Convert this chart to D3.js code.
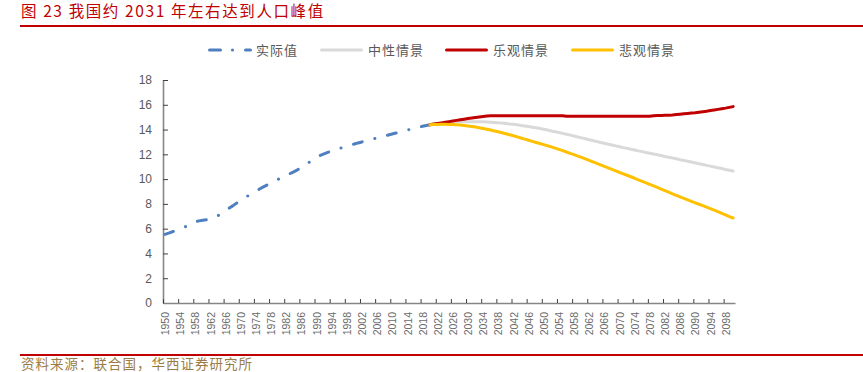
<!DOCTYPE html>
<html>
<head>
<meta charset="utf-8">
<script src="https://cdn.jsdelivr.net/npm/d3@7"></script>
<style>
  body { margin: 0; background: #fff; }
  svg { display: block; font-family: "Liberation Sans", Arial, sans-serif; }
</style>
</head>
<body>
<div id="chart-container"></div>
<script>
// 中国人口：实际值 1950-2020，三种情景 2020-2100（亿人）

const actualStart = 1950;
const actualValues = [
  5.54, 5.64, 5.75, 5.86, 5.98, 6.11, 6.24, 6.37, 6.55, 6.63,
  6.68, 6.72, 6.80, 6.93, 7.05, 7.24, 7.45, 7.66, 7.86, 8.07,
  8.27, 8.48, 8.66, 8.85, 9.03, 9.20, 9.37, 9.53, 9.68, 9.84,
  10.00, 10.14, 10.29, 10.44, 10.59, 10.75, 10.93, 11.13, 11.34, 11.55,
  11.76, 11.91, 12.04, 12.16, 12.27, 12.37, 12.47, 12.56, 12.65, 12.74,
  12.83, 12.92, 13.00, 13.08, 13.16, 13.24, 13.32, 13.40, 13.48, 13.56,
  13.64, 13.72, 13.80, 13.88, 13.96, 14.04, 14.12, 14.19, 14.26, 14.33,
  14.39
];

const scenarioStart = 2020;
const mediumValues = [
  14.39, 14.44, 14.48, 14.52, 14.55, 14.58, 14.60, 14.62, 14.63, 14.64,
  14.64, 14.64, 14.64, 14.63, 14.62, 14.61, 14.59, 14.57, 14.54, 14.52,
  14.49, 14.45, 14.42, 14.38, 14.33, 14.29, 14.24, 14.19, 14.14, 14.08,
  14.02, 13.96, 13.89, 13.83, 13.76, 13.69, 13.62, 13.55, 13.48, 13.40,
  13.33, 13.26, 13.18, 13.11, 13.03, 12.96, 12.89, 12.82, 12.75, 12.68,
  12.61, 12.54, 12.48, 12.41, 12.35, 12.28, 12.22, 12.15, 12.09, 12.02,
  11.96, 11.90, 11.83, 11.77, 11.70, 11.64, 11.57, 11.51, 11.44, 11.38,
  11.31, 11.24, 11.18, 11.11, 11.05, 10.98, 10.91, 10.85, 10.78, 10.72,
  10.65
];
const highValues = [
  14.39, 14.44, 14.49, 14.54, 14.59, 14.64, 14.69, 14.74, 14.79, 14.84,
  14.89, 14.94, 14.98, 15.02, 15.06, 15.09, 15.11, 15.12, 15.12, 15.12,
  15.12, 15.12, 15.12, 15.12, 15.12, 15.12, 15.12, 15.12, 15.12, 15.12,
  15.12, 15.12, 15.12, 15.12, 15.12, 15.12, 15.07, 15.07, 15.07, 15.07,
  15.07, 15.07, 15.07, 15.07, 15.07, 15.07, 15.07, 15.07, 15.07, 15.07,
  15.07, 15.07, 15.07, 15.07, 15.07, 15.07, 15.07, 15.07, 15.07, 15.12,
  15.13, 15.14, 15.15, 15.16, 15.18, 15.21, 15.24, 15.27, 15.30, 15.33,
  15.36, 15.40, 15.44, 15.48, 15.53, 15.58, 15.63, 15.68, 15.73, 15.79,
  15.85
];
const lowValues = [
  14.38, 14.40, 14.41, 14.42, 14.42, 14.41, 14.40, 14.38, 14.36, 14.33,
  14.29, 14.25, 14.20, 14.15, 14.09, 14.03, 13.96, 13.89, 13.82, 13.74,
  13.66, 13.58, 13.50, 13.41, 13.32, 13.23, 13.14, 13.05, 12.96, 12.87,
  12.78, 12.69, 12.60, 12.50, 12.40, 12.30, 12.19, 12.08, 11.97, 11.86,
  11.75, 11.63, 11.51, 11.39, 11.27, 11.15, 11.03, 10.91, 10.79, 10.67,
  10.55, 10.43, 10.31, 10.19, 10.07, 9.93, 9.81, 9.69, 9.57, 9.45,
  9.33, 9.20, 9.07, 8.94, 8.81, 8.69, 8.57, 8.45, 8.33, 8.21,
  8.09, 7.97, 7.86, 7.74, 7.62, 7.49, 7.37, 7.24, 7.11, 6.98,
  6.86
];

const yTicks = [0, 2, 4, 6, 8, 10, 12, 14, 16, 18];
const firstYear = 1950;
const lastYear = 2100;
const labelStep = 4;

const seriesNames = ["实际值", "中性情景", "乐观情景", "悲观情景"];
const seriesColors = ["#4F7FBF", "#D9D9D9", "#C00000", "#FFC000"];

const titleText = "图 23 我国约 2031 年左右达到人口峰值";
const sourceText = "资料来源：联合国，华西证券研究所";

const svgWidth = 863;
const svgHeight = 372;
const cjk = '"Noto Sans CJK SC", "Noto Sans", sans-serif';

const svg = d3.select("#chart-container")
    .append("svg")
    .attr("width", svgWidth)
    .attr("height", svgHeight);

// title + rules
svg.append("text")
    .attr("x", 21)
    .attr("y", 17)
    .attr("font-family", cjk)
    .attr("font-size", "15.5px")
    .attr("letter-spacing", "1.6px")
    .attr("fill", "#C00000")
    .text(titleText);

svg.append("rect").attr("x", 20).attr("y", 25).attr("width", svgWidth - 20).attr("height", 2).attr("fill", "#C00000");
svg.append("rect").attr("x", 20).attr("y", 354).attr("width", svgWidth - 20).attr("height", 2).attr("fill", "#C00000");

svg.append("text")
    .attr("x", 21)
    .attr("y", 369)
    .attr("font-family", cjk)
    .attr("font-size", "13.5px")
    .attr("letter-spacing", "1px")
    .attr("fill", "#9C7C45")
    .text(sourceText);

// scales
const scaleX = d3.scaleLinear()
    .domain([firstYear - 0.5, lastYear + 0.5])
    .range([163, 735]);

const scaleY = d3.scaleLinear()
    .domain([0, 18])
    .range([303, 80]);

// y axis
const yAxis = svg.append("g")
    .attr("transform", `translate(${scaleX.range()[0]},0)`)
    .call(d3.axisLeft(scaleY).tickValues(yTicks).tickSize(-5).tickSizeOuter(0).tickPadding(11));
yAxis.select(".domain").attr("stroke", "#868686").attr("stroke-width", 1.6);
yAxis.selectAll(".tick line").attr("stroke", "#404040");
yAxis.selectAll("text").attr("font-size", "12px").attr("fill", "#595959")
    .attr("font-family", '"Liberation Sans", Arial, sans-serif');

// x axis: tick marks at category boundaries, labels at category centres
const boundaryTicks = d3.range(firstYear - 0.5, lastYear, labelStep);
const labelYears = d3.range(firstYear, lastYear, labelStep);

const xAxis = svg.append("g")
    .attr("transform", `translate(0,${scaleY(0)})`)
    .call(d3.axisBottom(scaleX).tickValues(boundaryTicks).tickSize(-4).tickSizeOuter(0).tickFormat(""));
xAxis.select(".domain").attr("stroke", "#868686").attr("stroke-width", 1.6);
xAxis.selectAll(".tick line").attr("stroke", "#404040");

const xLabels = svg.append("g")
    .attr("transform", `translate(0,${scaleY(0)})`)
    .call(d3.axisBottom(scaleX).tickValues(labelYears).tickSize(0).tickFormat(d3.format("d")));
xLabels.select(".domain").remove();
xLabels.selectAll("text")
    .attr("transform", "rotate(-90)")
    .attr("x", -9)
    .attr("y", 0)
    .attr("dy", "0.35em")
    .attr("text-anchor", "end")
    .attr("font-size", "10.5px")
    .attr("fill", "#6a6a6a")
    .attr("font-family", '"Liberation Sans", Arial, sans-serif');

// lines
const toPoints = (start, values) => values.map((v, i) => ({ year: start + i, value: v }));
const line = d3.line()
    .x(d => scaleX(d.year))
    .y(d => scaleY(d.value));

const series = [
  { points: toPoints(actualStart, actualValues), color: seriesColors[0], dash: "9,13,0.1,13" },
  { points: toPoints(scenarioStart, mediumValues), color: seriesColors[1], dash: null },
  { points: toPoints(scenarioStart, highValues), color: seriesColors[2], dash: null },
  { points: toPoints(scenarioStart, lowValues), color: seriesColors[3], dash: null }
];

svg.selectAll("path.series")
    .data(series)
    .enter()
    .append("path")
    .attr("class", "series")
    .attr("d", d => line(d.points))
    .attr("fill", "none")
    .attr("stroke", d => d.color)
    .attr("stroke-width", 3)
    .attr("stroke-linecap", "round")
    .attr("stroke-linejoin", "round")
    .attr("stroke-dasharray", d => d.dash);

// legend
const legendX = [208, 320, 445, 571];
const legend = svg.append("g");
seriesNames.forEach(function(name, i) {
    const g = legend.append("g").attr("transform", `translate(${legendX[i]},50)`);
    if (i === 0) {
        g.append("line").attr("x1", 1.5).attr("x2", 12.5)
            .attr("stroke", seriesColors[i]).attr("stroke-width", 3).attr("stroke-linecap", "round");
        g.append("circle").attr("cx", 24.5).attr("r", 1.6).attr("fill", seriesColors[i]);
        g.append("line").attr("x1", 37.5).attr("x2", 42.5)
            .attr("stroke", seriesColors[i]).attr("stroke-width", 3).attr("stroke-linecap", "round");
    } else {
        g.append("line").attr("x1", 1.5).attr("x2", 41.5)
            .attr("stroke", seriesColors[i]).attr("stroke-width", 3).attr("stroke-linecap", "round");
    }
    g.append("text")
        .attr("x", 48)
        .attr("y", 4.5)
        .attr("font-family", cjk)
        .attr("font-size", "13px")
        .attr("letter-spacing", "1px")
        .attr("fill", "#595959")
        .text(name);
});
</script>
</body>
</html>
